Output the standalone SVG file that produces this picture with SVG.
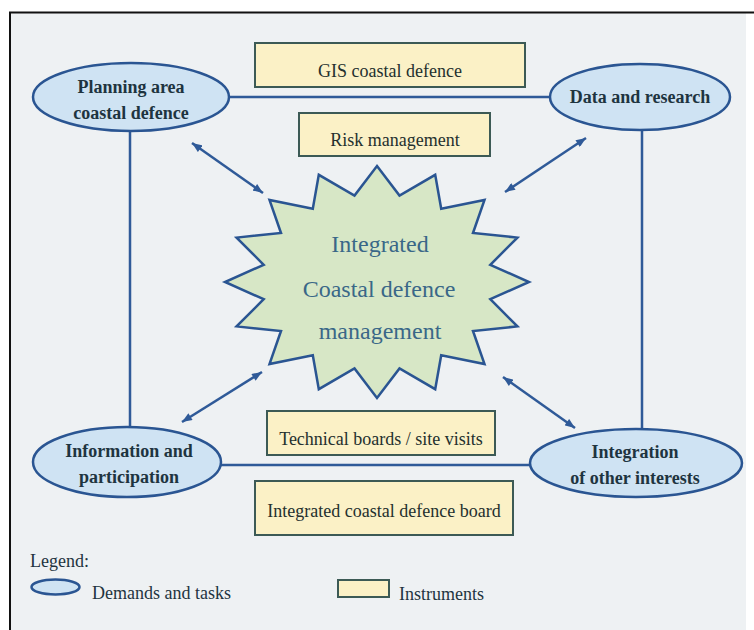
<svg xmlns="http://www.w3.org/2000/svg" width="754" height="630" viewBox="0 0 754 630">
<defs>
<style>
.bg{fill:#eef1f3}
.frame{stroke:#111;stroke-width:2;fill:none}
.task{fill:#cfe3f3;stroke:#2a5592;stroke-width:2.5}
.inst{fill:#fbf1c6;stroke:#3c5a55;stroke-width:2}
.star{fill:#d7e7c6;stroke:#2a5592;stroke-width:2.5;stroke-linejoin:miter}
.ln{stroke:#2f5a98;stroke-width:2.5;fill:none}
.arr{stroke:#2f5a98;stroke-width:2.5;fill:none;marker-start:url(#ah);marker-end:url(#ah)}
.tt{font-family:"Liberation Serif","Times New Roman",serif;font-weight:bold;font-size:18px;fill:#1e3440;text-anchor:middle}
.it{font-family:"Liberation Serif","Times New Roman",serif;font-size:18px;fill:#24302e;text-anchor:middle}
.st{font-family:"Liberation Serif","Times New Roman",serif;font-size:24px;fill:#3a6788;text-anchor:middle}
.lg{font-family:"Liberation Serif","Times New Roman",serif;font-size:18px;fill:#1e3440}
</style>
<marker id="ah" viewBox="0 0 10 8" refX="10" refY="4" markerWidth="11" markerHeight="8" markerUnits="userSpaceOnUse" orient="auto-start-reverse">
<path d="M0,0 L10,4 L0,8 z" fill="#2f5a98"/>
</marker>
</defs>
<rect x="0" y="0" width="754" height="630" fill="#ffffff"/>
<rect class="bg" x="10" y="12" width="736" height="618"/>
<path class="frame" d="M10,630 L10,12.5 L754,12.5"/>

<g id="connectors">
<line class="ln" x1="228" y1="97" x2="551" y2="97"/>
<line class="ln" x1="130" y1="131" x2="130" y2="428"/>
<line class="ln" x1="642" y1="130" x2="642" y2="430"/>
<line class="ln" x1="220" y1="465" x2="531" y2="465"/>
<line class="arr" x1="192" y1="143" x2="263" y2="193"/>
<line class="arr" x1="586" y1="138" x2="505" y2="192"/>
<line class="arr" x1="182" y1="422" x2="262" y2="372"/>
<line class="arr" x1="503" y1="377" x2="575" y2="428"/>
</g>

<g id="gis-coastal-defence">
<rect class="inst" x="255" y="43" width="270" height="44"/>
<text class="it" x="390" y="77">GIS coastal defence</text>
</g>
<g id="risk-management">
<rect class="inst" x="299" y="113" width="191" height="43"/>
<text class="it" x="395" y="146">Risk management</text>
</g>
<g id="technical-boards">
<rect class="inst" x="267" y="411" width="228" height="44"/>
<text class="it" x="381" y="445">Technical boards / site visits</text>
</g>
<g id="integrated-board">
<rect class="inst" x="255" y="481" width="258" height="54"/>
<text class="it" x="384" y="517">Integrated coastal defence board</text>
</g>

<g id="planning-area">
<ellipse class="task" cx="131" cy="97" rx="98" ry="34"/>
<text class="tt" x="131" y="93">Planning area</text>
<text class="tt" x="131" y="119">coastal defence</text>
</g>
<g id="data-research">
<ellipse class="task" cx="640" cy="97" rx="90" ry="33"/>
<text class="tt" x="640" y="103">Data and research</text>
</g>
<g id="information-participation">
<ellipse class="task" cx="127" cy="462" rx="94" ry="35"/>
<text class="tt" x="129" y="457">Information and</text>
<text class="tt" x="129" y="483">participation</text>
</g>
<g id="integration-interests">
<ellipse class="task" cx="636" cy="463" rx="106" ry="34"/>
<text class="tt" x="635" y="458">Integration</text>
<text class="tt" x="635" y="484">of other interests</text>
</g>

<g id="integrated-management">
<polygon class="star" points="377,166 399.5,195.5 435.2,174.8 441.2,208.7 484.5,200 473,233 517.4,237.6 490.3,264.8 529,282 490.3,299.2 517.4,326.4 473,331 484.5,364 441.2,355.3 435.2,389.2 399.5,368.5 377,398 354.5,368.5 318.8,389.2 312.8,355.3 269.5,364 281,331 236.6,326.4 263.7,299.2 225,282 263.7,264.8 236.6,237.6 281,233 269.5,200 312.8,208.7 318.8,174.8 354.5,195.5"/>
<text class="st" x="380" y="252">Integrated</text>
<text class="st" x="379" y="297">Coastal defence</text>
<text class="st" x="380" y="339">management</text>
</g>

<g id="legend">
<text class="lg" x="30" y="567">Legend:</text>
<ellipse class="task" cx="55.5" cy="587" rx="24" ry="7.5"/>
<text class="lg" x="92" y="599">Demands and tasks</text>
<rect class="inst" x="338" y="580" width="51" height="17"/>
<text class="lg" x="399" y="600">Instruments</text>
</g>
</svg>
